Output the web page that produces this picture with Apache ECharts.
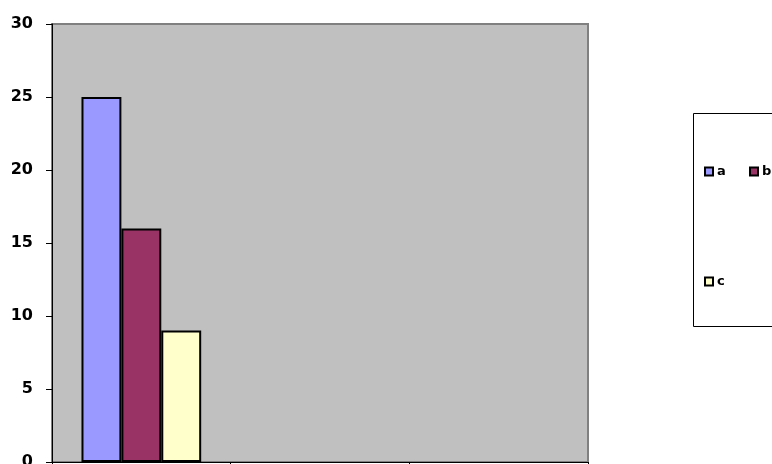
<!DOCTYPE html>
<html>
<head>
<meta charset="utf-8">
<script src="https://cdn.jsdelivr.net/npm/echarts@6/dist/echarts.min.js"></script>
<style>
  html, body { margin: 0; padding: 0; background: #fff; }
  #chart { width: 772px; height: 464px; }
</style>
</head>
<body>
<div id="chart"></div>
<script>
// data
const categories = ['1', '2', '3'];
const seriesA = [25, null, null];
const seriesB = [16, null, null];
const seriesC = [9, null, null];
const yTicks = [0, 5, 10, 15, 20, 25, 30];

const font = 'DejaVu Sans';

window.addEventListener('load', function () {
  const chart = echarts.init(document.getElementById('chart'));

  const barStyle = function (color) {
    return { color: color, borderColor: '#000', borderWidth: 2 };
  };
  const legendItem = function (name, left, top) {
    return {
      data: [name],
      left: left, top: top,
      padding: 0,
      itemWidth: 8, itemHeight: 8,
      icon: 'rect',
      itemStyle: { borderColor: '#000', borderWidth: 2 },
      textStyle: { fontFamily: font, fontWeight: 'bold', fontSize: 13, color: '#000', padding: [0, 0, 0, -1] }
    };
  };

  chart.setOption({
    animation: false,
    grid: {
      left: 52, top: 24, right: 184, bottom: 2,
      outerBoundsMode: 'none',
      show: true,
      backgroundColor: '#C0C0C0',
      borderColor: '#808080',
      borderWidth: 2
    },
    legend: [
      legendItem('a', 704, 165),
      legendItem('b', 749, 165),
      legendItem('c', 704, 275)
    ],
    graphic: [{
      type: 'rect',
      left: 693, top: 113,
      shape: { width: 100, height: 213 },
      style: { fill: '#fff', stroke: '#000', lineWidth: 1 },
      z: -1
    }],
    xAxis: {
      type: 'category',
      data: categories,
      axisLine: { lineStyle: { color: '#000', width: 1 } },
      axisTick: { show: true, length: 4, lineStyle: { color: '#000' } },
      axisLabel: { show: false },
      splitLine: { show: false }
    },
    yAxis: {
      type: 'value',
      min: yTicks[0],
      max: yTicks[yTicks.length - 1],
      interval: 5,
      axisLine: { show: true, lineStyle: { color: '#000', width: 1 } },
      axisTick: { show: true, length: 6, lineStyle: { color: '#000' } },
      axisLabel: {
        margin: 19,
        fontFamily: font, fontWeight: 'bold', fontSize: 16, color: '#000'
      },
      splitLine: { show: false }
    },
    series: [
      { name: 'a', type: 'bar', data: seriesA, barGap: 0, barCategoryGap: '33%', itemStyle: barStyle('#9999FF') },
      { name: 'b', type: 'bar', data: seriesB, barGap: 0, barCategoryGap: '33%', itemStyle: barStyle('#993366') },
      { name: 'c', type: 'bar', data: seriesC, barGap: 0, barCategoryGap: '33%', itemStyle: barStyle('#FFFFCC') }
    ]
  });
});
</script>
</body>
</html>
